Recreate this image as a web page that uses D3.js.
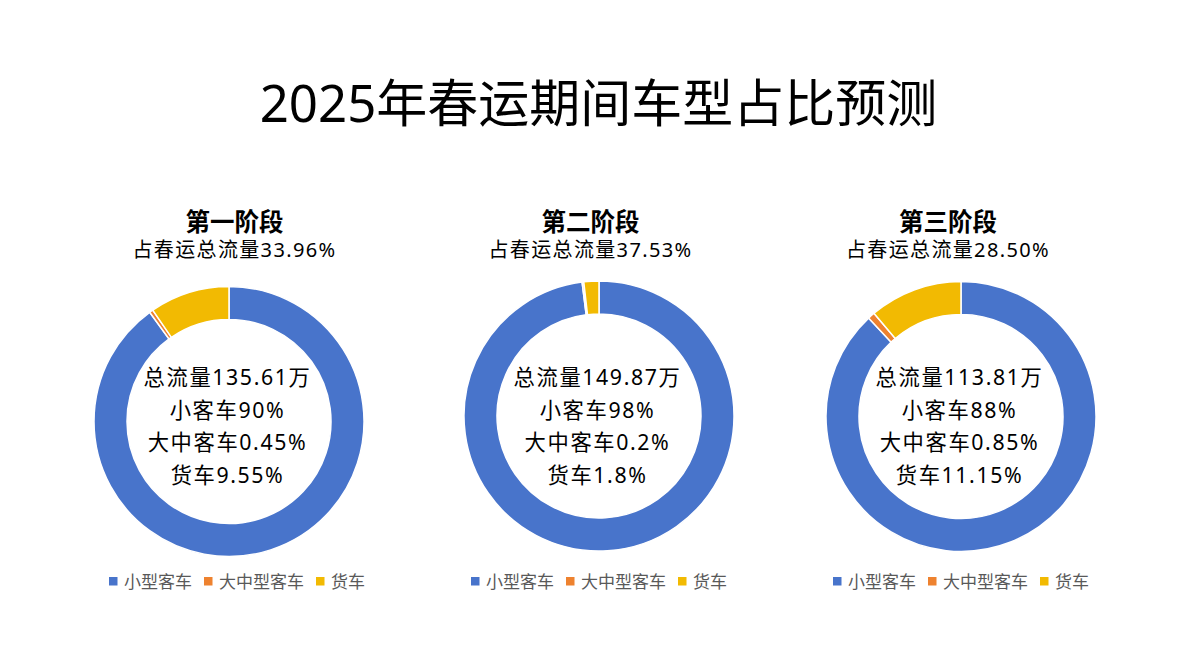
<!DOCTYPE html>
<html><head><meta charset="utf-8">
<script src="https://cdn.jsdelivr.net/npm/d3@7"></script>
<style>body{margin:0;background:#fff}svg{display:block}text{font-family:"Noto Sans","Noto Sans CJK SC",sans-serif}</style>
</head><body><svg id="c" width="1196" height="666"></svg>
<script>
const chartTitle = "2025年春运期间车型占比预测";
const categories = ["小型客车", "大中型客车", "货车"];
const stageNames = ["第一阶段", "第二阶段", "第三阶段"];
const stageShare = ["33.96%", "37.53%", "28.50%"];
const totalFlow = ["135.61万", "149.87万", "113.81万"];
const smallCar = [90, 98, 88];
const midBus = [0.45, 0.2, 0.85];
const truck = [9.55, 1.8, 11.15];
const smallLabel = ["90%", "98%", "88%"];
const midLabel = ["0.45%", "0.2%", "0.85%"];
const truckLabel = ["9.55%", "1.8%", "11.15%"];

const colors = ["#4874CB", "#EE822F", "#F2BA02"];
const layout = [
  {tx: 234.5, cx: 229, cy: 421.5, lx: 237},
  {tx: 590.5, cx: 599, cy: 416, lx: 599},
  {tx: 948, cx: 961, cy: 416.5, lx: 961}
];

const svg = d3.select("#c");
svg.append("text").attr("x", 598.5).attr("y", 102).attr("text-anchor", "middle")
  .attr("dominant-baseline", "central").attr("font-size", 51).attr("fill", "#000").text(chartTitle);

const color = d3.scaleOrdinal().domain(categories).range(colors);
const pie = d3.pie().sort(null).value(d => d.v);
const arc = d3.arc().innerRadius(102).outerRadius(135);

stageNames.forEach((name, i) => {
  const L = layout[i];
  const g = svg.append("g");
  g.append("text").attr("x", L.tx).attr("y", 221).attr("text-anchor", "middle")
    .attr("dominant-baseline", "central").attr("font-size", 24.5).attr("font-weight", "bold").text(name);
  g.append("text").attr("x", L.tx).attr("y", 249.5).attr("text-anchor", "middle")
    .attr("dominant-baseline", "central").attr("font-size", 20).attr("letter-spacing", 1.35)
    .text("占春运总流量" + stageShare[i]);

  const data = categories.map((c, k) => ({c, v: [smallCar, midBus, truck][k][i]}));
  const dg = g.append("g").attr("transform", `translate(${L.cx},${L.cy})`);
  dg.selectAll("path").data(pie(data)).join("path")
    .attr("d", arc).attr("fill", d => color(d.data.c))
    .attr("stroke", "#fff").attr("stroke-width", 1.5);

  const lines = ["总流量" + totalFlow[i], "小客车" + smallLabel[i], "大中客车" + midLabel[i], "货车" + truckLabel[i]];
  lines.forEach((t, k) => {
    g.append("text").attr("x", L.cx - 1.5).attr("y", 376.5 + k * 32.5)
      .attr("text-anchor", "middle").attr("dominant-baseline", "central")
      .attr("font-size", 21.3).attr("letter-spacing", 1.6).attr("fill", "#000").text(t);
  });

  // legend
  const lg = g.append("g");
  const fs = 17;
  const itemW = categories.map(c => 15 + c.length * fs);
  const gap = 12;
  const totalW = d3.sum(itemW) + gap * (categories.length - 1);
  let x = L.lx - totalW / 2;
  categories.forEach((c, k) => {
    lg.append("rect").attr("x", x).attr("y", 577).attr("width", 8.5).attr("height", 8.5).attr("fill", color(c));
    lg.append("text").attr("x", x + 15).attr("y", 581).attr("dominant-baseline", "central")
      .attr("font-size", fs).attr("fill", "#595959").text(c);
    x += itemW[k] + gap;
  });
});
</script></body></html>
